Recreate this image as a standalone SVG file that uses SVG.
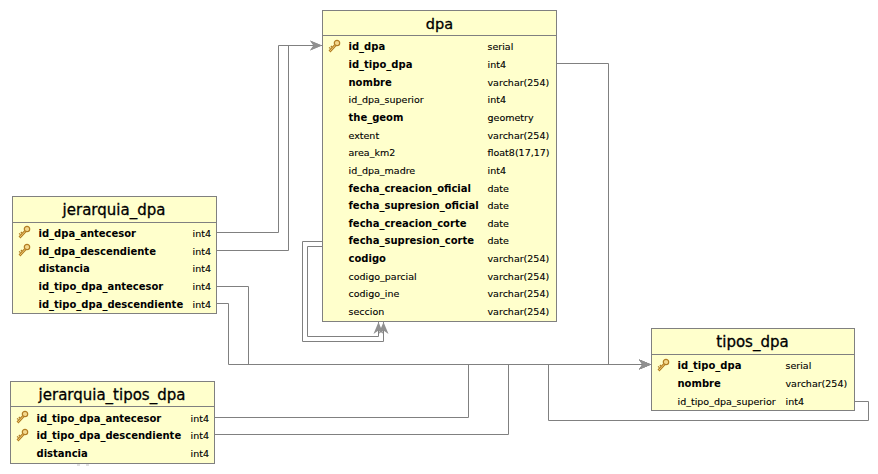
<svg xmlns="http://www.w3.org/2000/svg" width="878" height="474" viewBox="0 0 878 474">
<style>
text{font-family:"DejaVu Sans",sans-serif;font-size:9.5px;fill:#000;stroke:#000;stroke-width:.12px}
.t{font-size:15px;text-anchor:middle;stroke-width:.3px}
.b{font-weight:bold;font-size:10px;stroke:none}
.box{fill:#ffffcc;stroke:#808080;stroke-width:1}
.c{fill:none;stroke:#808080;stroke-width:1}
.h{stroke:#808080;stroke-width:1}
</style>
<defs>
<marker id="a" markerUnits="userSpaceOnUse" markerWidth="13" markerHeight="12" refX="12" refY="5.5" orient="auto"><path d="M0 0.5L12 5.5L0 10.5L3.5 5.5Z" fill="#909090"/></marker>
<g id="k">
<path d="M-4.5 5.5L1.5 -1" stroke="#b07c22" stroke-width="2.6" fill="none"/>
<path d="M-4.5 5.5L1.5 -1" stroke="#f0c870" stroke-width="1" fill="none"/>
<path d="M-3.5 2.5l-1.5 -1M-2 1l-1.2 -1" stroke="#b07c22" stroke-width="1.2"/>
<circle cx="3" cy="-3" r="2.7" fill="#f4d88c" stroke="#b07c22" stroke-width="1.2"/>
</g>
</defs>
<rect width="878" height="474" fill="#fff"/>
<g id="connectors">
<path class="c" d="M217 232.5H278.5V45.5H322" marker-end="url(#a)"/>
<path class="c" d="M217 250.5H288.5V45.5H322" marker-end="url(#a)"/>
<path class="c" d="M217 286.5H248.5V364.5H651" marker-end="url(#a)"/>
<path class="c" d="M217 303.5H228.5V364.5H651" marker-end="url(#a)"/>
<path class="c" d="M215 417.5H468.5V364.5H651" marker-end="url(#a)"/>
<path class="c" d="M215 434.5H508.5V364.5H651" marker-end="url(#a)"/>
<path class="c" d="M855 401.5H868.5V420.5H548.5V364.5H651" marker-end="url(#a)"/>
<path class="c" d="M557 63.5H608.5V364.5H651" marker-end="url(#a)"/>
<path class="c" d="M322 241.5H302.5V341.5H383.5V322" marker-end="url(#a)"/>
<path class="c" d="M322 246.5H307.5V336.5H378.5V322" marker-end="url(#a)"/>
</g>
<g id="dpa">
<rect class="box" x="322.5" y="10.5" width="234" height="311"/>
<path class="h" d="M322.5 35.5H556.5"/>
<text class="t" x="439.5" y="29" style="font-size:14.5px">dpa</text>
<use href="#k" x="334" y="46"/>
<text class="b" x="348.5" y="50">id_dpa</text><text x="487.5" y="50">serial</text>
<text class="b" x="348.5" y="68">id_tipo_dpa</text><text x="487.5" y="68">int4</text>
<text class="b" x="348.5" y="86">nombre</text><text x="487.5" y="86">varchar(254)</text>
<text x="348.5" y="103">id_dpa_superior</text><text x="487.5" y="103">int4</text>
<text class="b" x="348.5" y="121">the_geom</text><text x="487.5" y="121">geometry</text>
<text x="348.5" y="139">extent</text><text x="487.5" y="139">varchar(254)</text>
<text x="348.5" y="156">area_km2</text><text x="487.5" y="156">float8(17,17)</text>
<text x="348.5" y="174">id_dpa_madre</text><text x="487.5" y="174">int4</text>
<text class="b" x="348.5" y="192">fecha_creacion_oficial</text><text x="487.5" y="192">date</text>
<text class="b" x="348.5" y="209">fecha_supresion_oficial</text><text x="487.5" y="209">date</text>
<text class="b" x="348.5" y="227">fecha_creacion_corte</text><text x="487.5" y="227">date</text>
<text class="b" x="348.5" y="244">fecha_supresion_corte</text><text x="487.5" y="244">date</text>
<text class="b" x="348.5" y="262">codigo</text><text x="487.5" y="262">varchar(254)</text>
<text x="348.5" y="280">codigo_parcial</text><text x="487.5" y="280">varchar(254)</text>
<text x="348.5" y="297">codigo_ine</text><text x="487.5" y="297">varchar(254)</text>
<text x="348.5" y="315">seccion</text><text x="487.5" y="315">varchar(254)</text>
</g>
<g id="jerarquia_dpa">
<rect class="box" x="12.5" y="196.5" width="204" height="117"/>
<path class="h" d="M12.5 222.5H216.5"/>
<text class="t" x="114" y="215">jerarquia_dpa</text>
<use href="#k" x="24" y="232"/><use href="#k" x="24" y="250"/>
<text class="b" x="38.5" y="237">id_dpa_antecesor</text><text x="192.5" y="237">int4</text>
<text class="b" x="38.5" y="255">id_dpa_descendiente</text><text x="192.5" y="255">int4</text>
<text class="b" x="38.5" y="272">distancia</text><text x="192.5" y="272">int4</text>
<text class="b" x="38.5" y="290">id_tipo_dpa_antecesor</text><text x="192.5" y="290">int4</text>
<text class="b" x="38.5" y="308">id_tipo_dpa_descendiente</text><text x="192.5" y="308">int4</text>
</g>
<g id="jerarquia_tipos_dpa">
<rect class="box" x="10.5" y="381.5" width="204" height="82"/>
<path class="h" d="M10.5 406.5H214.5"/>
<text class="t" x="112" y="400">jerarquia_tipos_dpa</text>
<use href="#k" x="22" y="417"/><use href="#k" x="22" y="435"/>
<text class="b" x="36.5" y="422">id_tipo_dpa_antecesor</text><text x="190.5" y="422">int4</text>
<text class="b" x="36.5" y="439">id_tipo_dpa_descendiente</text><text x="190.5" y="439">int4</text>
<text class="b" x="36.5" y="457">distancia</text><text x="190.5" y="457">int4</text>
</g>
<g id="tipos_dpa">
<rect class="box" x="651.5" y="328.5" width="203" height="82"/>
<path class="h" d="M651.5 354.5H854.5"/>
<text class="t" x="752.5" y="347">tipos_dpa</text>
<use href="#k" x="663" y="365"/>
<text class="b" x="677.5" y="369">id_tipo_dpa</text><text x="785.5" y="369">serial</text>
<text class="b" x="677.5" y="387">nombre</text><text x="785.5" y="387">varchar(254)</text>
<text x="677.5" y="405">id_tipo_dpa_superior</text><text x="785.5" y="405">int4</text>
</g>
<path d="M77 465H80M86 465H89" stroke="#d8d8d8" stroke-width="1.5"/>
</svg>
